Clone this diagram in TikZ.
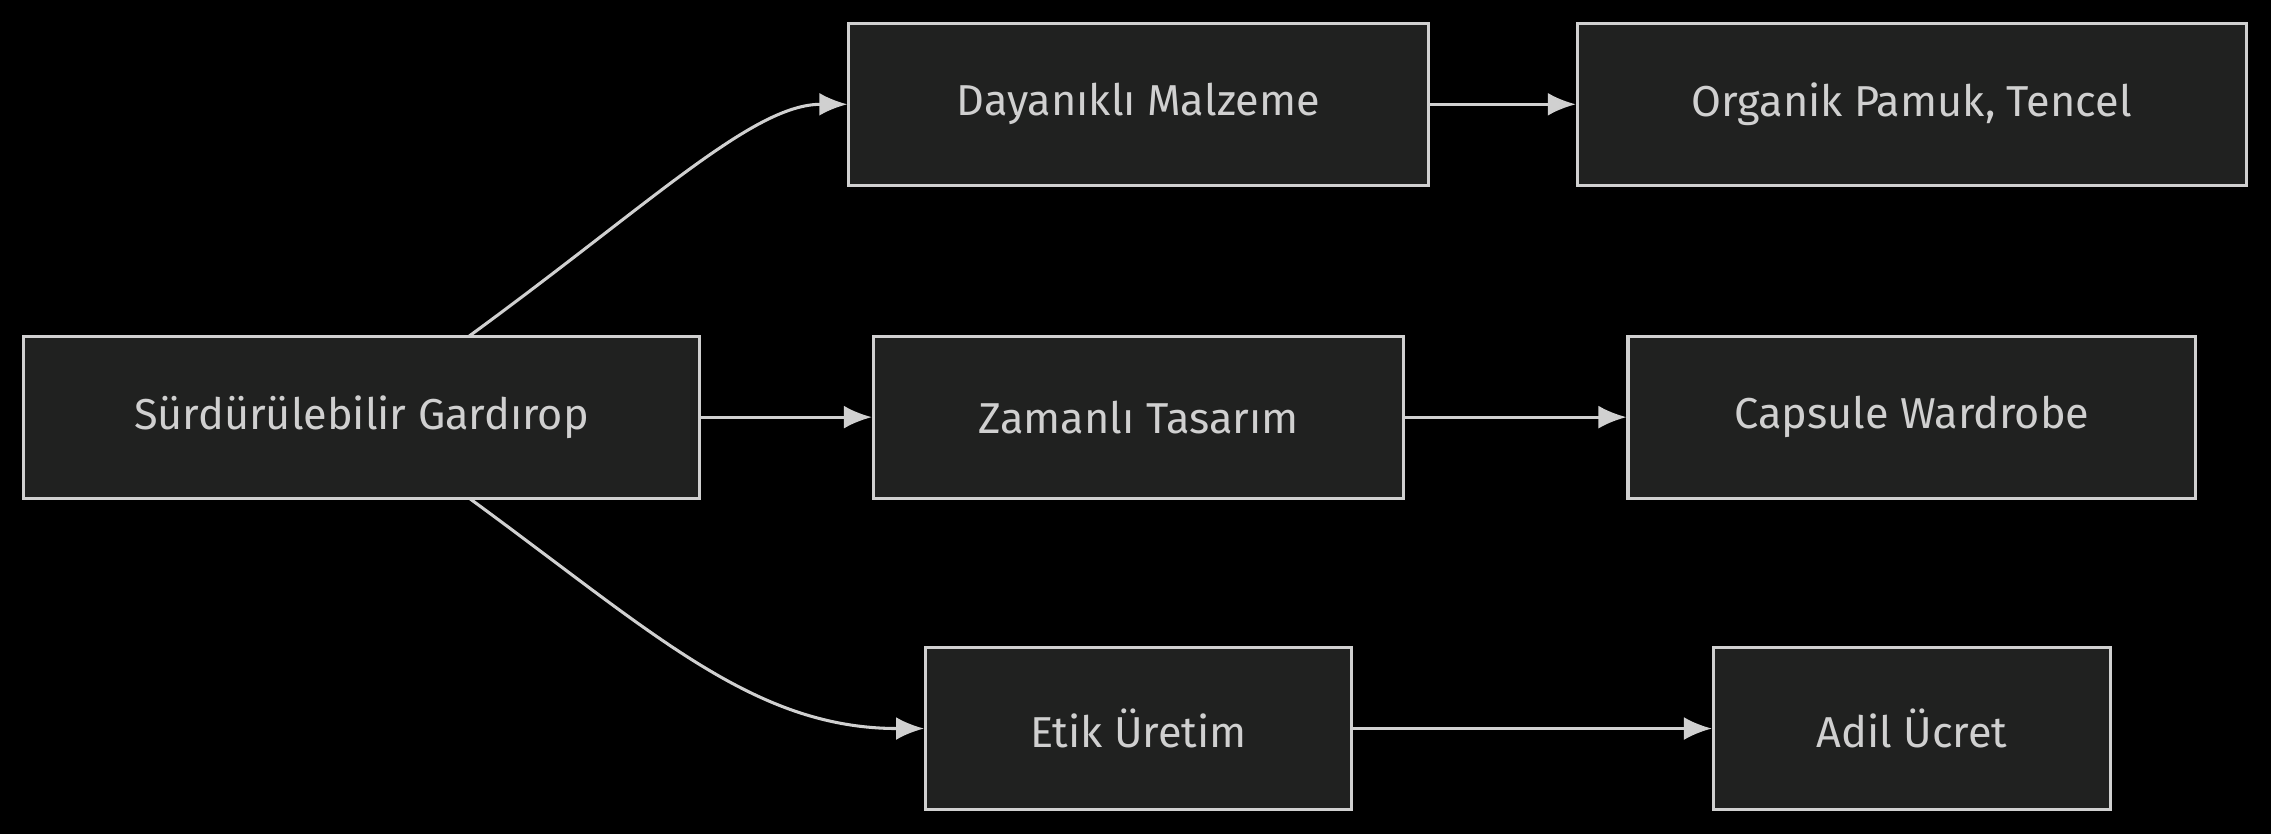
\documentclass[tikz,border=0pt]{standalone}
\usepackage{fontspec}
\setmainfont{Fira Sans}
\usetikzlibrary{arrows.meta}
\definecolor{boxFill}{HTML}{202120}
\definecolor{lineGray}{HTML}{D0D0D0}

\begin{document}
\begin{tikzpicture}[
    x=0.02cm, y=-0.02cm,
    box/.style={
        rectangle,
        minimum height=2.24cm,
        draw=lineGray,
        line width=1.2pt,
        fill=boxFill,
        text=lineGray,
        font=\fontsize{17}{20}\selectfont,
      },
    arr/.style={draw=lineGray, line width=1.2pt, -{Latex[length=11pt,width=9pt]}},
  ]
  \fill[black] (0,0) rectangle (1568,576);

  \node[box, minimum width=9.34cm] (S) at (249.5,288) {Sürdürülebilir Gardırop};

  \node[box, minimum width=8.00cm] (D) at (786,72) {Dayanıklı Malzeme};
  \node[box, minimum width=7.32cm] (Z) at (786,288) {Zamanlı Tasarım};
  \node[box, minimum width=5.88cm] (E) at (786,503) {Etik Üretim};

  \node[box, minimum width=9.24cm] (O) at (1320,72) {Organik Pamuk, Tencel};
  \node[box, minimum width=7.84cm] (C) at (1320,288) {Capsule Wardrobe};
  \node[box, minimum width=5.48cm] (A) at (1320,503) {Adil Ücret};

  % branches
  \coordinate (St) at (324,232);
  \coordinate (Sb) at (324,344);
  \draw[arr] (St) .. controls (450,140) and (520,72) .. (D.west);
  \draw[arr] (S) -- (Z);
  \draw[arr] (Sb) .. controls (450,436) and (520,503) .. (E.west);

  \draw[arr] (D) -- (O);
  \draw[arr] (Z) -- (C);
  \draw[arr] (E) -- (A);
\end{tikzpicture}
\end{document}
